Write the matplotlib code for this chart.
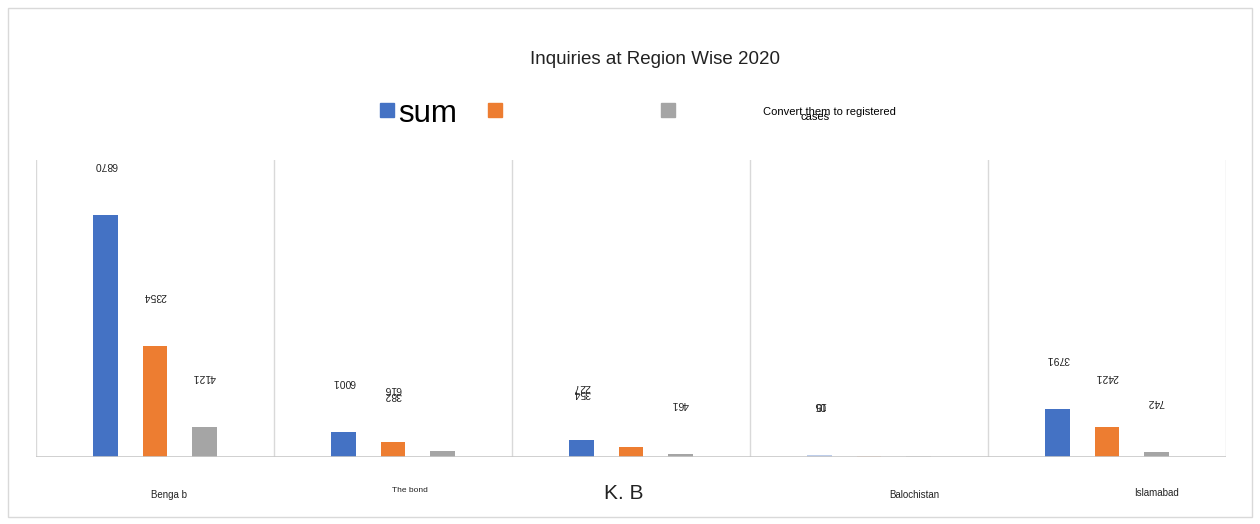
import matplotlib.pyplot as plt
from matplotlib.patches import Rectangle
import numpy as np

plt.rcParams['font.family'] = ['Liberation Sans', 'DejaVu Sans']

# data
regions = ['Benga b', 'The bond', 'K. B', 'Balochistan', 'Islamabad']
sum_vals = [9680, 1000, 690, 80, 1930]
second_vals = [4440, 600, 410, 60, 1200]
converted_vals = [1200, 240, 120, 40, 200]
# data labels as they sit in the sheet (drawn upside down)
sum_labels = ['6870', '6001', '354\n227', '05', '3791']
second_labels = ['2354', '382\n616', '', '10', '2421']
converted_labels = ['4121', '', '461', '', '742']
series_names = ['sum', '', 'Convert them to registered']

colors = ['#4472c4', '#ed7d31', '#a5a5a5']

fig = plt.figure(figsize=(12.6, 5.24), dpi=100)
fig.patches.append(Rectangle((8/1260, 7/524), 1244/1260, 509/524, transform=fig.transFigure,
                             fill=False, edgecolor='#d9d9d9', linewidth=1))

ax = fig.add_axes([36/1260, 1 - 457/524, 1190/1260, 297/524])
x = np.arange(len(regions))
w = 0.105
step = 0.206
series = [sum_vals, second_vals, converted_vals]
labels = [sum_labels, second_labels, converted_labels]
# Balochistan labels all pile up over the first bar
label_shift = [[0, 0, 0, 0, 0], [0, 0, 0, -1, 0], [0, 0, 0, 0, 0]]
for i, (vals, labs) in enumerate(zip(series, labels)):
    xs = x + (i - 1) * step
    alphas = [0.35 if r == 'Balochistan' else 1 for r in regions]
    for j, (xi, v, a, lab) in enumerate(zip(xs, vals, alphas, labs)):
        ax.bar(xi, v, width=w, color=colors[i], alpha=a, zorder=3)
        if lab:
            ax.annotate(lab, (xi + label_shift[i][j] * step, v), xytext=(0, 36),
                        textcoords='offset points', ha='center', va='center',
                        rotation=180, fontsize=7.5, linespacing=0.55, color='#222222')

ax.set_xlim(-0.5, len(regions) - 0.5)
ax.set_ylim(0, 11880)
for b in np.arange(-0.5, len(regions), 1):
    ax.axvline(b, color='#d9d9d9', linewidth=1, zorder=1)
ax.axhline(0, color='#c8c8c8', linewidth=1.2, zorder=4)
for s in ax.spines.values():
    s.set_visible(False)
ax.set_xticks([])
ax.set_yticks([])

# category labels
cat_dx = [0.06, 0.07, -0.03, 0.19, 0.21]
cat_y = [-27, -24, -26, -27, -26]
cat_size = [7, 6, 15, 7, 7]
for xi, name, dx, dy, fs in zip(x, regions, cat_dx, cat_y, cat_size):
    ax.annotate(name, (xi + dx, 0), xytext=(0, dy), textcoords='offset points',
                ha='center', va='center', fontsize=fs, color='#222222')

fig.text(655/1260, 1 - 60/524, 'Inquiries at Region Wise 2020', ha='center', va='center',
         fontsize=13.5, color='#222222')

# legend
leg_x = [380, 488, 661]
for lx, c in zip(leg_x, colors):
    fig.patches.append(Rectangle((lx/1260, 1 - 117/524), 14/1260, 14/524,
                                 transform=fig.transFigure, color=c))
fig.text(398/1260, 1 - 114/524, series_names[0], ha='left', va='center', fontsize=22.5)
fig.text(763/1260, 1 - 112/524, series_names[2], ha='left', va='center', fontsize=8)
fig.text(815/1260, 1 - 117/524, 'cases', ha='center', va='center', fontsize=8)

fig.savefig('out.png', dpi=100)
